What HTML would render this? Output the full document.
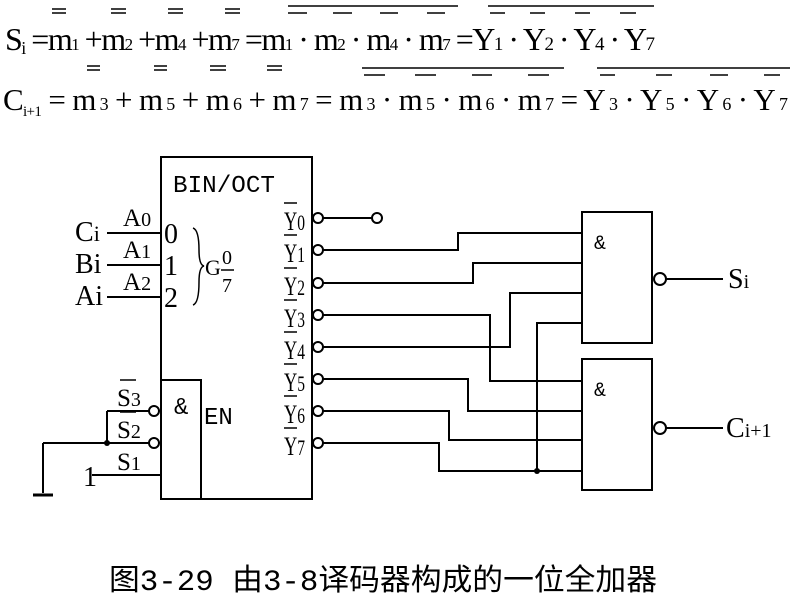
<!DOCTYPE html>
<html><head><meta charset="utf-8"><style>
html,body{margin:0;padding:0;background:#fff;}
svg{display:block;}
</style></head><body>
<svg width="800" height="601" viewBox="0 0 800 601" xmlns="http://www.w3.org/2000/svg">
<g font-family="Liberation Serif, serif" fill="#000">
<text x="5" y="50" font-size="32" textLength="650" lengthAdjust="spacing">S<tspan font-size="18" dy="4">i</tspan><tspan dy="-4"> =m</tspan><tspan font-size="17">1</tspan> +m<tspan font-size="17">2</tspan> +m<tspan font-size="17">4</tspan> +m<tspan font-size="17">7</tspan> =m<tspan font-size="17">1</tspan> · m<tspan font-size="17">2</tspan> · m<tspan font-size="17">4</tspan> · m<tspan font-size="17">7</tspan> =Y<tspan font-size="19">1</tspan> · Y<tspan font-size="19">2</tspan> · Y<tspan font-size="19">4</tspan> · Y<tspan font-size="19">7</tspan></text>
<text x="3" y="110" font-size="31" textLength="785" lengthAdjust="spacing">C<tspan font-size="15" dy="6">i+1</tspan><tspan dy="-6"> = m</tspan><tspan font-size="18"> 3</tspan> + m<tspan font-size="18"> 5</tspan> + m<tspan font-size="18"> 6</tspan> + m<tspan font-size="18"> 7</tspan> = m<tspan font-size="18"> 3</tspan> · m<tspan font-size="18"> 5</tspan> · m<tspan font-size="18"> 6</tspan> · m<tspan font-size="18"> 7</tspan> = Y<tspan font-size="18"> 3</tspan> · Y<tspan font-size="18"> 5</tspan> · Y<tspan font-size="18"> 6</tspan> · Y<tspan font-size="18"> 7</tspan></text>
</g>
<g stroke="#000" stroke-width="1.5" fill="none">
<path d="M52 9H66M52 13H66M111 9H126M111 13H126M168 9H183M168 13H183M225 9H240M225 13H240"/>
<path d="M288 6H458M288 13H307M333 13H352M380 13H398M427 13H445"/>
<path d="M488 6H654M490 13H505M530 13H545M575 13H590M620 13H636"/>
<path d="M87 66H100M87 70H100M154 66H167M154 70H167M210 66H226M210 70H226M267 66H282M267 70H282"/>
<path d="M362 68H564M364 75H385M415 75H436M472 75H492M528 75H549"/>
<path d="M597 68H790M600 75H615M656 75H672M710 75H728M764 75H780"/>
</g>
<g stroke="#000" stroke-width="2" fill="none">
<rect x="161" y="157" width="151" height="342"/>
<path d="M161 380H201V499"/>
<path d="M107 233H161M107 265H161M107 297H161"/>
<path d="M92 475H161"/>
<path d="M107 411H149M107 411V443M43 443H149M43 443V493"/>
<path d="M33 495H53" stroke-width="3"/>
<circle cx="154" cy="411" r="5"/><circle cx="154" cy="443" r="5"/>
<path d="M193 228 Q199 230 199 250 Q199 265 204 266 Q199 267 199 282 Q199 303 193 305" stroke-width="1.5"/>
<circle cx="318" cy="218" r="5"/>
<path d="M323 218H372"/><circle cx="377" cy="218" r="5"/>
<circle cx="318" cy="250" r="5"/><circle cx="318" cy="283" r="5"/><circle cx="318" cy="315" r="5"/><circle cx="318" cy="347" r="5"/>
<circle cx="318" cy="379" r="5"/><circle cx="318" cy="411" r="5"/><circle cx="318" cy="443" r="5"/>
<path d="M323 250H458V233H582"/>
<path d="M323 283H473V263H582"/>
<path d="M323 347H510V293H582"/>
<path d="M323 443H439V471H582"/>
<path d="M537 471V323H582"/>
<path d="M323 315H490V381H582"/>
<path d="M323 379H468V411H582"/>
<path d="M323 411H449V440H582"/>
<rect x="582" y="212" width="70" height="131"/>
<rect x="582" y="359" width="70" height="131"/>
<circle cx="660" cy="279" r="6"/><circle cx="660" cy="428" r="6"/>
<path d="M666 279H723M666 428H723"/>
</g>
<circle cx="107" cy="443" r="3" fill="#000"/>
<circle cx="537" cy="471" r="3" fill="#000"/>
<g font-family="Liberation Serif, serif" font-size="28" fill="#000">
<text x="75" y="241">C<tspan font-size="22">i</tspan></text>
<text x="75" y="273">Bi</text>
<text x="75" y="305">Ai</text>
<text x="123" y="226" font-size="25">A<tspan font-size="20">0</tspan></text>
<text x="123" y="258" font-size="25">A<tspan font-size="20">1</tspan></text>
<text x="123" y="290" font-size="25">A<tspan font-size="20">2</tspan></text>
<text x="117" y="406" font-size="25">S<tspan font-size="20">3</tspan></text>
<text x="117" y="438" font-size="25">S<tspan font-size="20">2</tspan></text>
<text x="117" y="470" font-size="25">S<tspan font-size="20">1</tspan></text>
<text x="83" y="486">1</text>
<text x="164" y="243">0</text>
<text x="164" y="275">1</text>
<text x="164" y="307">2</text>
<text x="205" y="275" font-size="22">G</text>
<text x="222" y="264" font-size="20">0</text>
<text x="222" y="292" font-size="20">7</text>
<text x="728" y="288">S<tspan font-size="20">i</tspan></text>
<text x="726" y="437">C<tspan font-size="20">i+1</tspan></text>
</g>
<path d="M120 380H136M120 412H136M221 270H234" stroke="#000" stroke-width="1.5"/>
<g font-family="Liberation Mono, monospace" fill="#000">
<text x="173" y="192" font-size="24" textLength="102" lengthAdjust="spacingAndGlyphs">BIN/OCT</text>
<text x="174" y="414" font-size="24">&amp;</text>
<text x="204" y="424" font-size="24">EN</text>
<text x="594" y="249" font-size="20">&amp;</text>
<text x="594" y="396" font-size="20">&amp;</text>
</g>
<g font-family="Liberation Serif, serif" font-size="26" fill="#000">
<text x="284" y="230" textLength="21" lengthAdjust="spacingAndGlyphs">Y<tspan font-size="22">0</tspan></text>
<text x="284" y="262" textLength="21" lengthAdjust="spacingAndGlyphs">Y<tspan font-size="22">1</tspan></text>
<text x="284" y="295" textLength="21" lengthAdjust="spacingAndGlyphs">Y<tspan font-size="22">2</tspan></text>
<text x="284" y="327" textLength="21" lengthAdjust="spacingAndGlyphs">Y<tspan font-size="22">3</tspan></text>
<text x="284" y="359" textLength="21" lengthAdjust="spacingAndGlyphs">Y<tspan font-size="22">4</tspan></text>
<text x="284" y="391" textLength="21" lengthAdjust="spacingAndGlyphs">Y<tspan font-size="22">5</tspan></text>
<text x="284" y="423" textLength="21" lengthAdjust="spacingAndGlyphs">Y<tspan font-size="22">6</tspan></text>
<text x="284" y="455" textLength="21" lengthAdjust="spacingAndGlyphs">Y<tspan font-size="22">7</tspan></text>
</g>
<path d="M284 203H297M284 235H297M284 268H297M284 300H297M284 332H297M284 364H297M284 396H297M284 428H297" stroke="#000" stroke-width="1.5"/>
<text x="109" y="590" font-family="Liberation Mono, 'Noto Sans CJK SC', sans-serif" font-size="30" textLength="548" lengthAdjust="spacingAndGlyphs" fill="#000">图3-29 由3-8译码器构成的一位全加器</text>
</svg>
</body></html>
